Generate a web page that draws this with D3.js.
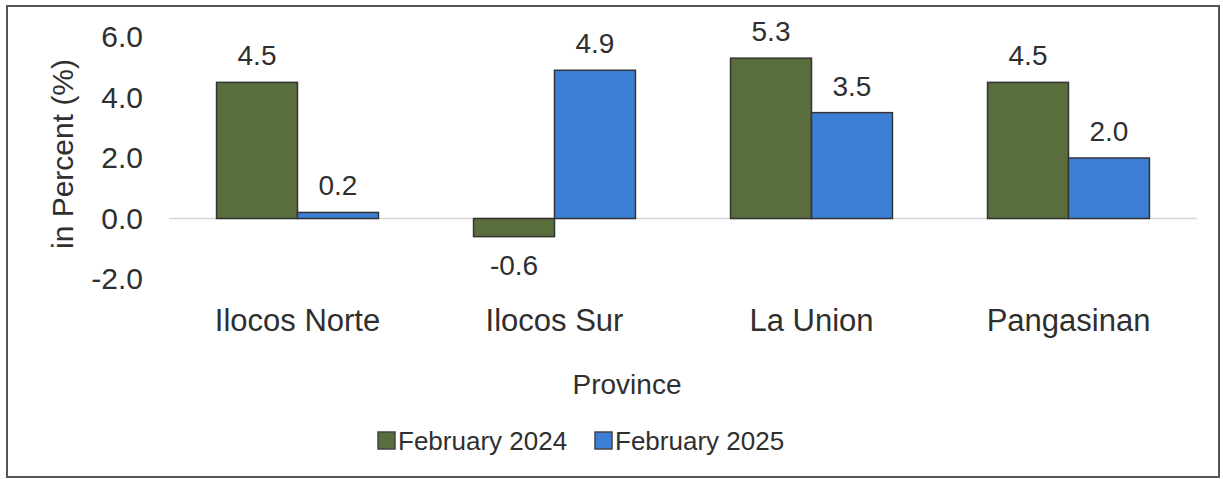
<!DOCTYPE html>
<html>
<head>
<meta charset="utf-8">
<script src="https://cdn.jsdelivr.net/npm/d3@7"></script>
<style>
  body { margin: 0; background: #fff; }
  text { font-family: "Liberation Sans", Arial, sans-serif; fill: #2f2f2f; }
</style>
</head>
<body>
<div id="chart"></div>
<script>
// data
const provinces = ["Ilocos Norte", "Ilocos Sur", "La Union", "Pangasinan"];
const seriesNames = ["February 2024", "February 2025"];
const feb2024 = [4.5, -0.6, 5.3, 4.5];
const feb2025 = [0.2, 4.9, 3.5, 2.0];
const yTicks = [-2, 0, 2, 4, 6];
const colors = ["#5a6d3c", "#3c7fd4"];

const W = 1223, H = 479;
const margin = { top: 37, right: 26, bottom: 200, left: 169 };

// plain hyphen for negatives, like the original
const fmt = v => v.toFixed(1);

const svg = d3.select("#chart").append("svg")
    .attr("width", W)
    .attr("height", H);

// outer frame
svg.append("rect")
    .attr("x", 7).attr("y", 6)
    .attr("width", 1212).attr("height", 471)
    .attr("fill", "none")
    .attr("stroke", "#555")
    .attr("stroke-width", 2);

const x0 = d3.scaleBand()
    .domain(provinces)
    .range([margin.left, W - margin.right])
    .paddingInner(0.37)
    .paddingOuter(0.185);

const x1 = d3.scaleBand()
    .domain(seriesNames)
    .range([0, x0.bandwidth()]);

const y = d3.scaleLinear()
    .domain([-2, 6])
    .range([279, 37]);

// zero line
svg.append("line")
    .attr("x1", margin.left).attr("x2", W - margin.right)
    .attr("y1", y(0)).attr("y2", y(0))
    .attr("stroke", "#d6d6d6")
    .attr("stroke-width", 1.5);

// y tick labels
const yAxis = svg.append("g")
    .attr("transform", "translate(143,0)")
    .call(d3.axisLeft(y).tickValues(yTicks).tickSize(0).tickPadding(0).tickFormat(fmt));
yAxis.select(".domain").remove();
yAxis.selectAll("text")
    .style("font-size", "30px")
    .style("font-family", "Liberation Sans, Arial, sans-serif")
    .attr("fill", "#2f2f2f");

// y title
svg.append("text")
    .attr("transform", "translate(73,154) rotate(-90)")
    .attr("text-anchor", "middle")
    .style("font-size", "30px")
    .text("in Percent (%)");

// bars
const rows = provinces.map((p, i) => ({ p, vals: [feb2024[i], feb2025[i]] }));

const groups = svg.append("g").selectAll("g")
    .data(rows)
    .join("g")
    .attr("transform", d => `translate(${x0(d.p)},0)`);

groups.selectAll("rect")
    .data(d => d.vals.map((v, k) => ({ k, v })))
    .join("rect")
    .attr("x", d => x1(seriesNames[d.k]))
    .attr("width", x1.bandwidth())
    .attr("y", d => y(Math.max(0, d.v)))
    .attr("height", d => Math.abs(y(d.v) - y(0)))
    .attr("fill", d => colors[d.k])
    .attr("stroke", "#333")
    .attr("stroke-width", 1.5);

groups.selectAll("text")
    .data(d => d.vals.map((v, k) => ({ k, v })))
    .join("text")
    .attr("x", d => x1(seriesNames[d.k]) + x1.bandwidth() / 2)
    .attr("y", d => d.v >= 0 ? y(d.v) - 17 : y(d.v) + 38)
    .attr("text-anchor", "middle")
    .style("font-size", "28px")
    .text(d => fmt(d.v));

// category labels
svg.append("g").selectAll("text")
    .data(provinces)
    .join("text")
    .attr("x", d => x0(d) + x0.bandwidth() / 2)
    .attr("y", 331)
    .attr("text-anchor", "middle")
    .style("font-size", "31px")
    .text(d => d);

// x title
svg.append("text")
    .attr("x", 627).attr("y", 394)
    .attr("text-anchor", "middle")
    .style("font-size", "28px")
    .text("Province");

// legend
const legendX = [378, 595];
const legend = svg.append("g").selectAll("g")
    .data(seriesNames)
    .join("g")
    .attr("transform", (d, i) => `translate(${legendX[i]},432)`);
legend.append("rect")
    .attr("width", 17).attr("height", 17)
    .attr("fill", (d, i) => colors[i])
    .attr("stroke", "#444")
    .attr("stroke-width", 1.5);
legend.append("text")
    .attr("x", 20).attr("y", 18)
    .style("font-size", "26px")
    .text(d => d);
</script>
</body>
</html>
